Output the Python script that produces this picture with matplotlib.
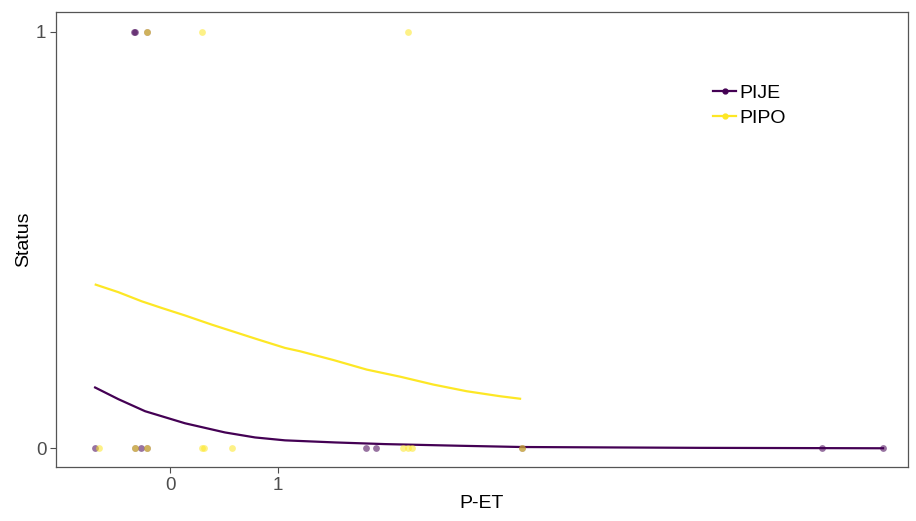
import numpy as np
import matplotlib
matplotlib.use("Agg")
import matplotlib.pyplot as plt
from matplotlib.lines import Line2D

plt.rcParams["font.family"] = ["Liberation Sans", "DejaVu Sans"]

# observed points (P-ET, status) per species
pije_x = [-0.694, -0.324, -0.269, -0.213, 1.815, 1.907, 3.259, 6.037, 6.602,
          -0.330, -0.320, -0.213]
pije_y = [0, 0, 0, 0, 0, 0, 0, 0, 0,
          1, 1, 1]
pipo_x = [-0.657, -0.324, -0.213, 0.296, 0.315, 0.574, 2.157, 2.204, 2.241, 3.259,
          -0.213, 0.296, 2.204]
pipo_y = [0, 0, 0, 0, 0, 0, 0, 0, 0, 0,
          1, 1, 1]

# fitted curves
pije_fit_x = [-0.694, -0.479, -0.231, 0.139, 0.509, 0.787, 1.065, 1.528, 1.991,
              2.685, 3.259, 4.907, 6.602]
pije_fit_y = [0.146, 0.118, 0.089, 0.060, 0.038, 0.026, 0.019, 0.014, 0.010,
              0.006, 0.003, 0.001, 0.000]
pipo_fit_x = [-0.688, -0.479, -0.262, -0.077, 0.139, 0.386, 0.602, 0.818, 1.065,
              1.204, 1.512, 1.821, 2.130, 2.438, 2.747, 3.056, 3.241]
pipo_fit_y = [0.393, 0.375, 0.353, 0.337, 0.319, 0.297, 0.279, 0.261, 0.241,
              0.233, 0.212, 0.189, 0.172, 0.153, 0.137, 0.125, 0.119]

species = ["PIJE", "PIPO"]
colors = {"PIJE": "#440154", "PIPO": "#FDE725"}

fig = plt.figure(figsize=(9.16, 5.21), dpi=100)
ax = fig.add_axes([56 / 916, 1 - 467 / 521, (908 - 56) / 916, (467 - 12) / 521])

ax.scatter(pije_x, pije_y, s=24, color=colors["PIJE"], alpha=0.55, linewidths=0, zorder=3)
ax.scatter(pipo_x, pipo_y, s=24, color=colors["PIPO"], alpha=0.55, linewidths=0, zorder=3)
ax.plot(pije_fit_x, pije_fit_y, color=colors["PIJE"], lw=1.6, zorder=2)
ax.plot(pipo_fit_x, pipo_fit_y, color=colors["PIPO"], lw=1.6, zorder=2)

ax.set_xlim(-1.056, 6.833)
ax.set_ylim(-0.045, 1.048)
ax.set_xticks([0, 1])
ax.set_yticks([0, 1])
ax.tick_params(colors="#4D4D4D", labelsize=13.5, length=4, width=0.8, labelcolor="#4D4D4D", pad=3)
for s in ax.spines.values():
    s.set_color("#555555")
    s.set_linewidth(0.9)

ax.set_xlabel("P-ET", fontsize=14, labelpad=1)
ax.set_ylabel("Status", fontsize=14, labelpad=2.5)

handles = [Line2D([], [], color=colors[k], lw=1.6, marker="o", markersize=3.5) for k in species]
ax.legend(handles, species, loc="upper left", bbox_to_anchor=(713 / 916, 1 - 84 / 521),
          bbox_transform=fig.transFigure, frameon=False, fontsize=14, borderpad=0,
          borderaxespad=0, handlelength=1.2, handletextpad=0.15, labelspacing=0.4)

fig.savefig("out.png", dpi=100)
